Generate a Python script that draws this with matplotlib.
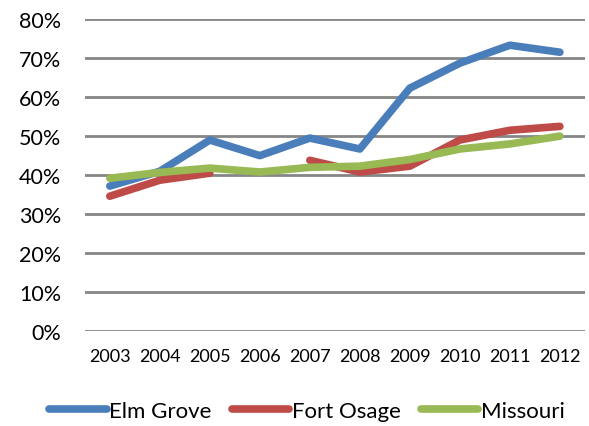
import numpy as np
import matplotlib.pyplot as plt
from matplotlib.ticker import PercentFormatter

years = [2003, 2004, 2005, 2006, 2007, 2008, 2009, 2010, 2011, 2012]
elm_grove = [37.2, 41.0, 49.0, 45.0, 49.5, 46.7, 62.3, 68.7, 73.3, 71.5]
fort_osage = [34.6, 38.7, 40.5, np.nan, 43.8, 40.8, 42.3, 49.0, 51.5, 52.5]
missouri = [39.2, 40.7, 41.8, 40.8, 42.0, 42.3, 44.0, 46.7, 48.0, 50.0]

plt.rcParams['font.family'] = ['Lato', 'DejaVu Sans']

fig = plt.figure(figsize=(5.89, 4.27), dpi=100)
ax = fig.add_axes([0.144, 0.222, 0.849, 0.731])

ax.plot(years, elm_grove, color='#4A7EBB', lw=5.5, label='Elm Grove', solid_capstyle='round')
ax.plot(years, fort_osage, color='#BE4B48', lw=5.5, label='Fort Osage', solid_capstyle='round')
ax.plot(years, missouri, color='#98B954', lw=5.5, label='Missouri', solid_capstyle='round')

ax.set_xlim(2002.5, 2012.5)
ax.set_ylim(0, 80)
ax.set_yticks(range(0, 81, 10))
ax.set_xticks(years)
ax.yaxis.set_major_formatter(PercentFormatter(decimals=0))
ax.grid(axis='y', color='#868686', lw=2)
ax.set_axisbelow(True)
for s in ax.spines.values():
    s.set_visible(False)
ax.tick_params(axis='y', length=0, labelsize=15.5, pad=17)
ax.tick_params(axis='x', length=0, labelsize=13, pad=12)

ax.legend(loc='center', bbox_to_anchor=(0.444, -0.255), ncol=3, frameon=False,
          fontsize=16, handlelength=2.6, handletextpad=0.1, columnspacing=0.9)

fig.savefig('out.png', dpi=100)
